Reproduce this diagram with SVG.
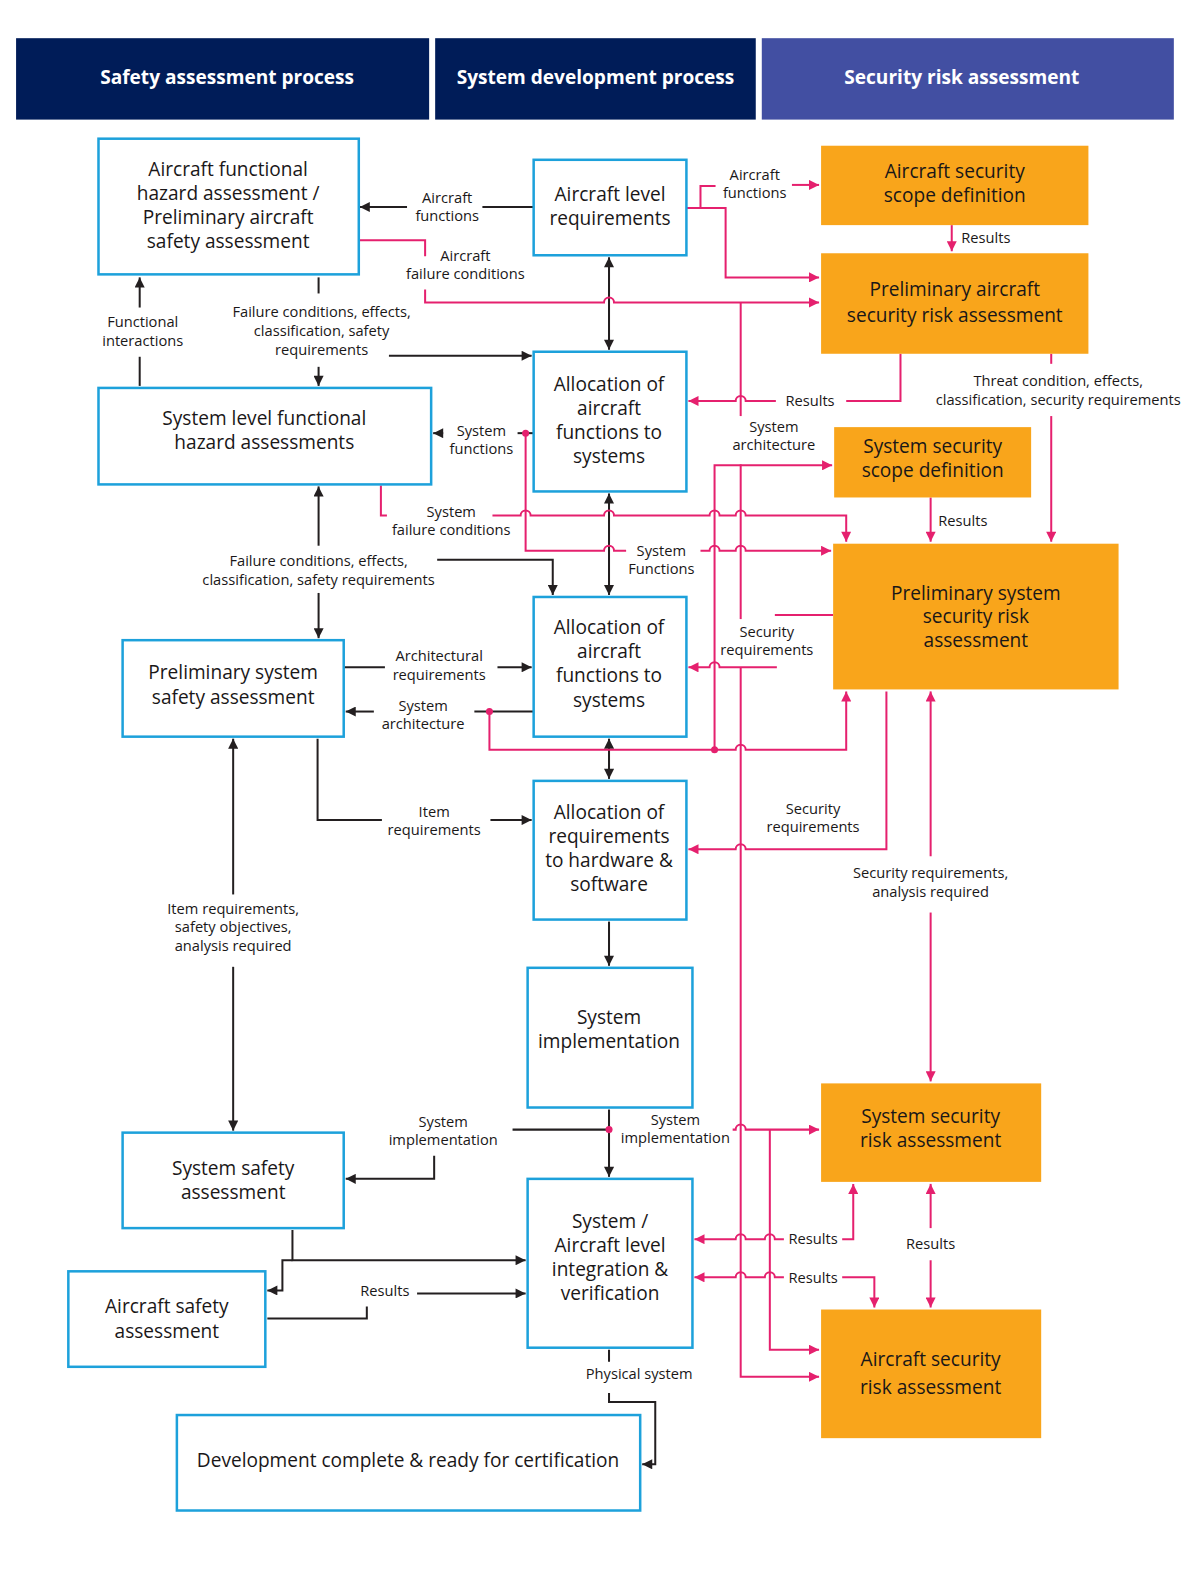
<svg xmlns="http://www.w3.org/2000/svg" width="1200" height="1575" viewBox="0 0 1200 1575">
<style>
.hd{fill:#001c58}
.hd3{fill:#424fa2}
.ht{font-family:"Open Sans","Noto Sans",sans-serif;font-weight:bold;font-size:19px;fill:#fff;text-anchor:middle}
.nb{fill:#fff;stroke:#1da1db;stroke-width:2.5}
.ob{fill:#f9a51b}
.nt{font-family:"Open Sans","Noto Sans",sans-serif;font-size:19px;fill:#1a1718;text-anchor:middle}
.lt{font-family:"Open Sans","Noto Sans",sans-serif;font-size:14.6px;fill:#1a1718;text-anchor:middle}
.k{stroke:#231f20;stroke-width:2;fill:none}
.p{stroke:#e5206e;stroke-width:2;fill:none}
.ka{marker-end:url(#ak)}
.kb{marker-start:url(#ak);marker-end:url(#ak)}
.pa{marker-end:url(#ap)}
.pb{marker-start:url(#ap);marker-end:url(#ap)}
.dot{fill:#e5206e}
</style>
<defs>
<marker id="ak" markerUnits="userSpaceOnUse" viewBox="0 0 10 10" refX="10" refY="5" markerWidth="11" markerHeight="10" orient="auto-start-reverse"><path d="M0,0L10,5L0,10z" fill="#231f20"/></marker>
<marker id="ap" markerUnits="userSpaceOnUse" viewBox="0 0 10 10" refX="10" refY="5" markerWidth="11" markerHeight="10" orient="auto-start-reverse"><path d="M0,0L10,5L0,10z" fill="#e5206e"/></marker>
</defs>
<rect width="1200" height="1575" fill="#fff"/>
<g transform="scale(1.005)">
<g id="headers">
<rect class="hd" x="16" y="38" width="411" height="81"/>
<text class="ht" x="226" y="84">Safety assessment process</text>
<rect class="hd" x="433" y="38" width="319" height="81"/>
<text class="ht" x="592.5" y="84">System development process</text>
<rect class="hd3" x="758" y="38" width="410" height="81"/>
<text class="ht" x="957" y="84">Security risk assessment</text>
</g>

<g id="connectors">
<!-- black -->
<path class="k" d="M531,206H480"/>
<path class="k ka" d="M405,206H358"/>
<path class="k kb" d="M606,256V348"/>
<path class="k" d="M317,276V292"/>
<path class="k ka" d="M317,365V384"/>
<path class="k ka" d="M387,354H529"/>
<path class="k ka" d="M139,306V276"/>
<path class="k" d="M139,355V384"/>
<path class="k" d="M531,431H515"/>
<path class="k ka" d="M441,431H431"/>
<path class="k kb" d="M606,491V592"/>
<path class="k ka" d="M317,543V484"/>
<path class="k ka" d="M317,590V635"/>
<path class="k ka" d="M435,557H550V592"/>
<path class="k" d="M342,664H383"/>
<path class="k ka" d="M495,664H529"/>
<path class="k" d="M531,708H472"/>
<path class="k ka" d="M372,708H344"/>
<path class="k kb" d="M606,735V775"/>
<path class="k" d="M316,735V816H380"/>
<path class="k ka" d="M488,816H529"/>
<path class="k ka" d="M232,890V735"/>
<path class="k ka" d="M232,962V1125"/>
<path class="k ka" d="M606,917V961"/>
<path class="k ka" d="M606,1104V1171"/>
<path class="k" d="M606,1124H510"/>
<path class="k ka" d="M432,1150V1173H344"/>
<path class="k ka" d="M291,1224V1254H523"/>
<path class="k ka" d="M291,1254H281V1284H266"/>
<path class="k" d="M266,1312H365V1300"/>
<path class="k ka" d="M415,1287H523"/>
<path class="k" d="M606,1343V1355"/>
<path class="k ka" d="M606,1386V1395H652V1457H639"/>
<!-- pink -->
<path class="p" d="M358,239H423V255"/>
<path class="p pa" d="M423,288V301H601a5,5 0 0 1 10,0H815"/>
<path class="p" d="M737,301V414"/>
<path class="p" d="M737,462V616"/>
<path class="p pa" d="M737,664V1370H815"/>
<path class="p pa" d="M683,207H722V276H815"/>
<path class="p" d="M697,207V185H712"/>
<path class="p pa" d="M788,184H815"/>
<path class="p pa" d="M947,224V250"/>
<path class="p" d="M896,352V399H842"/>
<path class="p pa" d="M772,399H742a5,5 0 0 0 -10,0H685"/>
<path class="p" d="M1046,352V362"/>
<path class="p pa" d="M1046,414V539"/>
<path class="p pa" d="M926,495V539"/>
<path class="p" d="M379,483V513H385"/>
<path class="p pa" d="M490,513H518a5,5 0 0 1 10,0H601a5,5 0 0 1 10,0H706a5,5 0 0 1 10,0H732a5,5 0 0 1 10,0H842V539"/>
<path class="p" d="M523,431V548H601a5,5 0 0 1 10,0H623"/>
<path class="p pa" d="M697,548H706a5,5 0 0 1 10,0H732a5,5 0 0 1 10,0H827"/>
<path class="p pa" d="M711,746V463H828"/>
<path class="p pa" d="M487,708V746H732a5,5 0 0 1 10,0H842V688"/>
<path class="p" d="M829,612H771"/>
<path class="p pa" d="M773,664H716a5,5 0 0 0 -10,0H685"/>
<path class="p pa" d="M882,688V845H742a5,5 0 0 0 -10,0H685"/>
<path class="p pa" d="M926,852V688"/>
<path class="p pa" d="M926,908V1076"/>
<path class="p pa" d="M729,1124H732a5,5 0 0 1 10,0H815"/>
<path class="p pa" d="M766,1124V1343H815"/>
<path class="p pa" d="M838,1233H849V1178"/>
<path class="p pa" d="M780,1233H771a5,5 0 0 0 -10,0H742a5,5 0 0 0 -10,0H691"/>
<path class="p pa" d="M780,1271H771a5,5 0 0 0 -10,0H742a5,5 0 0 0 -10,0H691"/>
<path class="p pa" d="M838,1271H870V1301"/>
<path class="p pa" d="M926,1222V1178"/>
<path class="p pa" d="M926,1254V1301"/>
<circle class="dot" cx="523" cy="431" r="3.5"/>
<circle class="dot" cx="487" cy="708" r="3.5"/>
<circle class="dot" cx="711" cy="746" r="3.5"/>
<circle class="dot" cx="606" cy="1124" r="3.5"/>
<!-- labels -->
<text class="lt"><tspan x="445" y="202">Aircraft</tspan><tspan x="445" y="220">functions</tspan></text>
<text class="lt"><tspan x="463" y="260">Aircraft</tspan><tspan x="463" y="278">failure conditions</tspan></text>
<text class="lt"><tspan x="751" y="179">Aircraft</tspan><tspan x="751" y="197">functions</tspan></text>
<text class="lt" x="981" y="242">Results</text>
<text class="lt"><tspan x="320" y="315">Failure conditions, effects,</tspan><tspan x="320" y="334">classification, safety</tspan><tspan x="320" y="353">requirements</tspan></text>
<text class="lt"><tspan x="142" y="325">Functional</tspan><tspan x="142" y="344">interactions</tspan></text>
<text class="lt" x="806" y="404">Results</text>
<text class="lt"><tspan x="1053" y="384">Threat condition, effects,</tspan><tspan x="1053" y="403">classification, security requirements</tspan></text>
<text class="lt"><tspan x="770" y="430">System</tspan><tspan x="770" y="448">architecture</tspan></text>
<text class="lt"><tspan x="479" y="434">System</tspan><tspan x="479" y="452">functions</tspan></text>
<text class="lt"><tspan x="449" y="514">System</tspan><tspan x="449" y="532">failure conditions</tspan></text>
<text class="lt" x="958" y="523">Results</text>
<text class="lt"><tspan x="658" y="553">System</tspan><tspan x="658" y="571">Functions</tspan></text>
<text class="lt"><tspan x="317" y="563">Failure conditions, effects,</tspan><tspan x="317" y="582">classification, safety requirements</tspan></text>
<text class="lt"><tspan x="763" y="634">Security</tspan><tspan x="763" y="652">requirements</tspan></text>
<text class="lt"><tspan x="437" y="658">Architectural</tspan><tspan x="437" y="677">requirements</tspan></text>
<text class="lt"><tspan x="421" y="707">System</tspan><tspan x="421" y="725">architecture</tspan></text>
<text class="lt"><tspan x="809" y="810">Security</tspan><tspan x="809" y="828">requirements</tspan></text>
<text class="lt"><tspan x="432" y="813">Item</tspan><tspan x="432" y="831">requirements</tspan></text>
<text class="lt"><tspan x="926" y="874">Security requirements,</tspan><tspan x="926" y="893">analysis required</tspan></text>
<text class="lt"><tspan x="232" y="909">Item requirements,</tspan><tspan x="232" y="927">safety objectives,</tspan><tspan x="232" y="946">analysis required</tspan></text>
<text class="lt"><tspan x="441" y="1121">System</tspan><tspan x="441" y="1139">implementation</tspan></text>
<text class="lt"><tspan x="672" y="1119">System</tspan><tspan x="672" y="1137">implementation</tspan></text>
<text class="lt" x="809" y="1238">Results</text>
<text class="lt" x="926" y="1243">Results</text>
<text class="lt" x="809" y="1277">Results</text>
<text class="lt" x="383" y="1290">Results</text>
<text class="lt" x="636" y="1372">Physical system</text>
</g>

<g id="n-afha"><rect class="nb" x="98" y="138" width="259" height="135"/><text class="nt"><tspan x="227" y="175">Aircraft functional</tspan><tspan x="227" y="199">hazard assessment /</tspan><tspan x="227" y="223">Preliminary aircraft</tspan><tspan x="227" y="247">safety assessment</tspan></text></g>
<g id="n-alr"><rect class="nb" x="531" y="159" width="152" height="95"/><text class="nt"><tspan x="607" y="200">Aircraft level</tspan><tspan x="607" y="224">requirements</tspan></text></g>
<g id="n-sfha"><rect class="nb" x="98" y="386" width="331" height="96"/><text class="nt"><tspan x="263" y="423">System level functional</tspan><tspan x="263" y="447">hazard assessments</tspan></text></g>
<g id="n-alloc1"><rect class="nb" x="531" y="350" width="152" height="139"/><text class="nt"><tspan x="606" y="389">Allocation of</tspan><tspan x="606" y="413">aircraft</tspan><tspan x="606" y="437">functions to</tspan><tspan x="606" y="461">systems</tspan></text></g>
<g id="n-pssa"><rect class="nb" x="122" y="637" width="220" height="96"/><text class="nt"><tspan x="232" y="676">Preliminary system</tspan><tspan x="232" y="700">safety assessment</tspan></text></g>
<g id="n-alloc2"><rect class="nb" x="531" y="594" width="152" height="139"/><text class="nt"><tspan x="606" y="631">Allocation of</tspan><tspan x="606" y="655">aircraft</tspan><tspan x="606" y="679">functions to</tspan><tspan x="606" y="703">systems</tspan></text></g>
<g id="n-allochw"><rect class="nb" x="531" y="777" width="152" height="138"/><text class="nt"><tspan x="606" y="815">Allocation of</tspan><tspan x="606" y="839">requirements</tspan><tspan x="606" y="863">to hardware &amp;</tspan><tspan x="606" y="887">software</tspan></text></g>
<g id="n-impl"><rect class="nb" x="525" y="963" width="164" height="139"/><text class="nt"><tspan x="606" y="1019">System</tspan><tspan x="606" y="1043">implementation</tspan></text></g>
<g id="n-ssa"><rect class="nb" x="122" y="1127" width="220" height="95"/><text class="nt"><tspan x="232" y="1169">System safety</tspan><tspan x="232" y="1193">assessment</tspan></text></g>
<g id="n-integ"><rect class="nb" x="525" y="1173" width="164" height="168"/><text class="nt"><tspan x="607" y="1222">System /</tspan><tspan x="607" y="1246">Aircraft level</tspan><tspan x="607" y="1270">integration &amp;</tspan><tspan x="607" y="1294">verification</tspan></text></g>
<g id="n-asa"><rect class="nb" x="68" y="1265" width="196" height="95"/><text class="nt"><tspan x="166" y="1306">Aircraft safety</tspan><tspan x="166" y="1331">assessment</tspan></text></g>
<g id="n-done"><rect class="nb" x="176" y="1408" width="461" height="95"/><text class="nt" x="406" y="1460">Development complete &amp; ready for certification</text></g>

<g id="n-assd"><rect class="ob" x="817" y="145" width="266" height="79"/><text class="nt"><tspan x="950" y="177">Aircraft security</tspan><tspan x="950" y="201">scope definition</tspan></text></g>
<g id="n-pasra"><rect class="ob" x="817" y="252" width="266" height="100"/><text class="nt"><tspan x="950" y="295">Preliminary aircraft</tspan><tspan x="950" y="320">security risk assessment</tspan></text></g>
<g id="n-sssd"><rect class="ob" x="830" y="425" width="196" height="70"/><text class="nt"><tspan x="928" y="451">System security</tspan><tspan x="928" y="475">scope definition</tspan></text></g>
<g id="n-pssra"><rect class="ob" x="829" y="541" width="284" height="145"/><text class="nt"><tspan x="971" y="597">Preliminary system</tspan><tspan x="971" y="620">security risk</tspan><tspan x="971" y="644">assessment</tspan></text></g>
<g id="n-ssra"><rect class="ob" x="817" y="1078" width="219" height="98"/><text class="nt"><tspan x="926" y="1117">System security</tspan><tspan x="926" y="1141">risk assessment</tspan></text></g>
<g id="n-asra"><rect class="ob" x="817" y="1303" width="219" height="128"/><text class="nt"><tspan x="926" y="1359">Aircraft security</tspan><tspan x="926" y="1387">risk assessment</tspan></text></g>
</g>
</svg>
